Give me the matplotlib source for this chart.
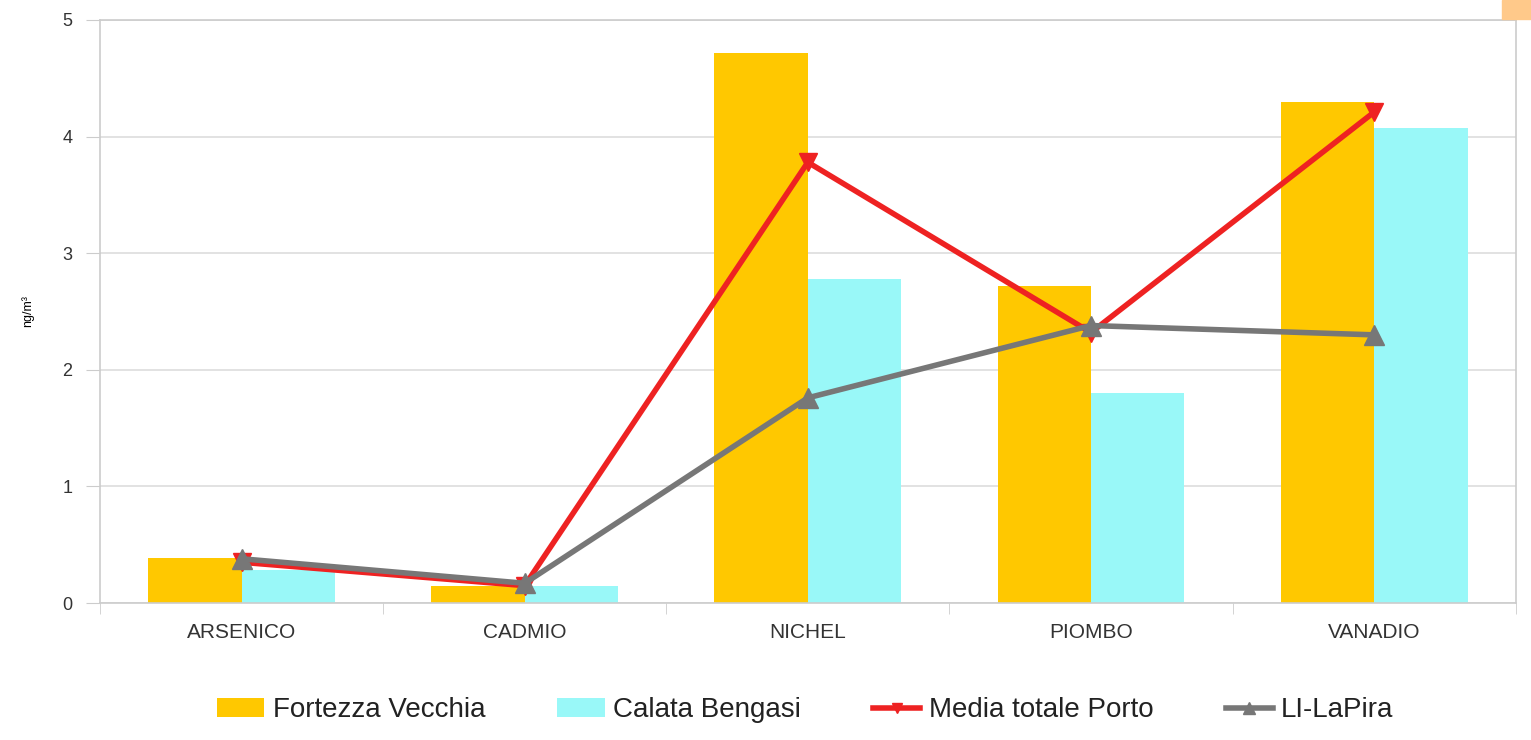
import matplotlib.pyplot as plt
import matplotlib.patches as mpatches
import numpy as np

plt.rcParams['font.family'] = ['Liberation Sans', 'DejaVu Sans']

categories = ['ARSENICO', 'CADMIO', 'NICHEL', 'PIOMBO', 'VANADIO']
fortezza = [0.39, 0.15, 4.72, 2.72, 4.30]
calata = [0.28, 0.15, 2.78, 1.80, 4.07]
media_porto = [0.35, 0.15, 3.78, 2.32, 4.21]
lapira = [0.38, 0.17, 1.76, 2.38, 2.30]

x = np.arange(len(categories))
w = 0.33

fig = plt.figure(figsize=(15.31, 7.40), dpi=100)
ax = fig.add_axes([0.0653, 0.185, 0.9247, 0.788])

b1 = ax.bar(x - w/2, fortezza, w, color='#ffc800', label='Fortezza Vecchia', zorder=2)
b2 = ax.bar(x + w/2, calata, w, color='#99f8f8', label='Calata Bengasi', zorder=2)
l1, = ax.plot(x, media_porto, color='#ee2222', lw=4, marker='v', ms=13,
              label='Media totale Porto', zorder=3)
l2, = ax.plot(x, lapira, color='#777777', lw=4, marker='^', ms=14,
              label='LI-LaPira', zorder=4)

ax.set_xlim(-0.5, len(categories) - 0.5)
ax.set_ylim(0, 5)
ax.set_yticks(range(6))
ax.yaxis.grid(True, color='#dddddd', lw=1.2, zorder=0)
ax.set_xticks(x)
ax.set_xticklabels(categories)
ax.set_xticks(np.arange(-0.5, len(categories)), minor=True)
ax.tick_params(axis='x', which='major', length=0, pad=14, labelsize=15, labelcolor='#333333')
ax.tick_params(axis='x', which='minor', length=8, color='#cccccc')
ax.tick_params(axis='y', length=10, color='#cccccc', labelsize=13, labelcolor='#333333', pad=10)
for s in ax.spines.values():
    s.set_color('#cccccc')
    s.set_linewidth(1.2)

ax.set_ylabel('ng/m³', fontsize=9, labelpad=20)

leg = fig.legend([b1, b2, l1, l2],
                 ['Fortezza Vecchia', 'Calata Bengasi', 'Media totale Porto', 'LI-LaPira'],
                 loc='center', bbox_to_anchor=(0.526, 0.04), ncol=4, frameon=False,
                 fontsize=20, handlelength=1.7, columnspacing=2.6, handletextpad=0.3,
                 markerscale=0.6)
for t in leg.get_texts():
    t.set_color('#222222')

fig.patches.append(mpatches.Rectangle((0.981, 0.975), 0.019, 0.025,
                                      transform=fig.transFigure, color='#ffc98a'))

fig.savefig('out.png', dpi=100)
